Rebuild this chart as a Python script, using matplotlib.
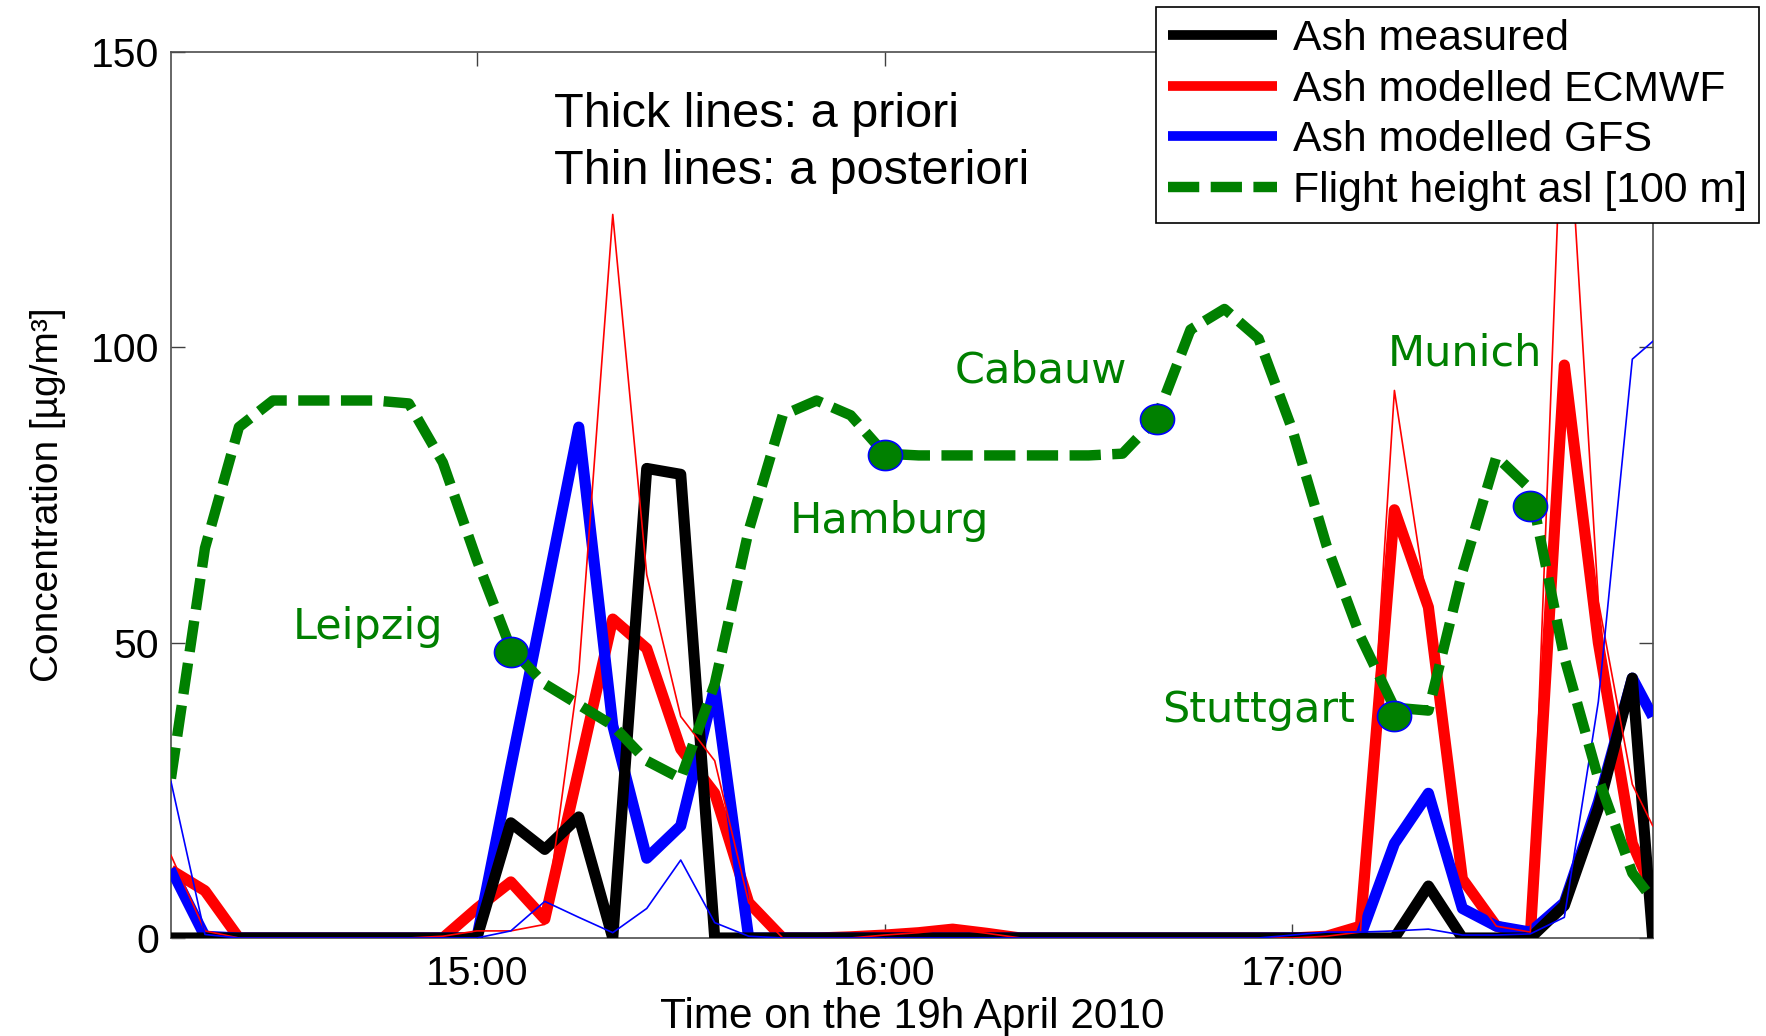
import numpy as np
import matplotlib
matplotlib.use('Agg')
import matplotlib.pyplot as plt
from matplotlib.path import Path
from matplotlib.markers import MarkerStyle

plt.rcParams['font.family'] = ['Liberation Sans', 'DejaVu Sans']

# sample times along the flight (5 min steps, last sample at landing)
times = ['14:15', '14:20', '14:25', '14:30', '14:35', '14:40', '14:45', '14:50',
         '14:55', '15:00', '15:05', '15:10', '15:15', '15:20', '15:25', '15:30',
         '15:35', '15:40', '15:45', '15:50', '15:55', '16:00', '16:05', '16:10',
         '16:15', '16:20', '16:25', '16:30', '16:35', '16:40', '16:45', '16:50',
         '16:55', '17:00', '17:05', '17:10', '17:15', '17:20', '17:25', '17:30',
         '17:35', '17:40', '17:45', '17:50', '17:53']

ash_measured = [0, 0, 0, 0, 0, 0, 0, 0, 0, 0,
                19.5, 15, 20.5, 0, 79.5, 78.5, 0, 0, 0, 0,
                0, 0, 0, 0, 0, 0, 0, 0, 0, 0,
                0, 0, 0, 0, 0, 0, 0, 8.8, 0, 0,
                0, 5.5, 22, 44, 0]

ecmwf_prior = [11.5, 8, 0, 0, 0, 0, 0, 0, 0, 5,
               9.5, 3.2, 28.5, 54, 49, 32, 24.5, 6, 0, 0,
               0.2, 0.5, 0.9, 1.5, 0.8, 0, 0, 0, 0, 0,
               0, 0, 0, 0, 0.3, 2, 72.5, 56, 10, 2,
               0.5, 97, 50, 16, 8]

ecmwf_post = [14, 1.2, 0, 0, 0, 0, 0, 0, 0.3, 1.2,
              1.2, 2.3, 45, 122.5, 61.5, 37.5, 30, 6, 0, 0,
              0, 0.5, 0.9, 1.5, 0.8, 0, 0, 0, 0, 0,
              0, 0, 0, 0, 0.3, 1, 92.7, 55, 10, 2,
              1, 152, 57, 26, 19]

gfs_prior = [11.7, 0.3, 0, 0, 0, 0, 0, 0, 0, 0,
             29, 57.5, 86.5, 36, 13.5, 19, 42.5, 0, 0, 0,
             0, 0, 0, 0, 0, 0, 0, 0, 0, 0,
             0, 0, 0, 0, 0, 0.3, 16, 24.5, 5, 2,
             1, 6, 23, 44, 37.5]

gfs_post = [26.5, 0.6, 0, 0, 0, 0, 0, 0, 0, 0,
            1.2, 6.2, 3.5, 0.9, 5, 13.2, 2.6, 0.3, 0, 0,
            0, 0, 0, 0, 0, 0, 0, 0, 0, 0,
            0, 0, 0, 0.5, 1, 1, 1.2, 1.5, 0.5, 0.5,
            0.7, 3.5, 40, 98, 101]

flight_height = [27, 66, 86.5, 91, 91, 91, 91, 90.5, 80.5, 64,
                 49, 43, 39.5, 36, 30, 27, 43, 69, 88.5, 91,
                 88.5, 82, 81.7, 81.7, 81.7, 81.7, 81.7, 81.7, 82, 88,
                 103, 106.5, 101.5, 86, 66.5, 51, 39, 38.5, 62, 81.5,
                 76, 47.5, 27, 11, 6.5]

cities = ['Leipzig', 'Hamburg', 'Cabauw', 'Stuttgart', 'Munich']
city_times = ['15:05', '16:00', '16:40', '17:15', '17:35']
city_height = [48.4, 81.7, 87.8, 37.5, 73.1]
city_label_x = [14.548, 15.768, 16.171, 16.68, 17.233]
city_label_y = [50.7, 68.6, 94.1, 36.5, 97.0]

xtick_hours = [15, 16, 17]
xtick_labels = ['15:00', '16:00', '17:00']
ytick_values = [0, 50, 100, 150]
ytick_labels = ['0', '50', '100', '150']


def to_hours(s):
    h, m = s.split(':')
    return int(h) + int(m) / 60.0


t = np.array([to_hours(s) for s in times])
tc = np.array([to_hours(s) for s in city_times])

GREEN = '#008000'

fig = plt.figure(figsize=(17.66, 10.36), dpi=100)
ax = fig.add_axes([0.0968, 0.0946, 0.936 - 0.0968, 0.9498 - 0.0946])

# a priori (thick) and a posteriori (thin) model runs
thick = dict(lw=8, solid_joinstyle='round', solid_capstyle='butt')
h_ecm, = ax.plot(t, ecmwf_prior, color='red', zorder=3, **thick)
h_gfs, = ax.plot(t, gfs_prior, color='blue', zorder=4, **thick)
h_meas, = ax.plot(t, ash_measured, color='black', zorder=5, **thick)
ax.plot(t, ecmwf_post, color='red', lw=1.2, zorder=6)
ax.plot(t, gfs_post, color='blue', lw=1.2, zorder=6)

h_fl, = ax.plot(t, flight_height, color=GREEN, lw=7.5, linestyle=(0, (3.0, 1.1)),
                dash_capstyle='butt', dash_joinstyle='round', zorder=7)

# city markers: slightly wide ellipses
theta = np.linspace(0, 2 * np.pi, 73)
ell = Path(np.column_stack([1.13 * np.cos(theta), np.sin(theta)]))
ax.plot(tc, city_height, linestyle='none', marker=MarkerStyle(ell), markersize=24.5,
        markerfacecolor=GREEN, markeredgecolor='blue', markeredgewidth=1.2, zorder=8)

for name, x, y in zip(cities, city_label_x, city_label_y):
    ax.text(x, y, name, color=GREEN, fontsize=31, family='DejaVu Sans',
            ha='left', va='baseline', zorder=9)

ax.text(15.19, 137.3, 'Thick lines: a priori', fontsize=35, ha='left', va='baseline')
ax.text(15.19, 127.6, 'Thin lines: a posteriori', fontsize=35, ha='left', va='baseline')

ax.set_xlim(14.25, 17.884)
ax.set_ylim(0, 150)
ax.set_xticks(xtick_hours)
ax.set_xticklabels(xtick_labels)
ax.set_yticks(ytick_values)
ax.set_yticklabels(ytick_labels)
ax.tick_params(axis='both', direction='in', length=10, width=1, color='0.25',
               top=True, right=True, labelsize=29.5)
ax.tick_params(axis='x', pad=12)
ax.tick_params(axis='y', pad=8.5)
for sp in ax.spines.values():
    sp.set_color('0.3')
    sp.set_linewidth(1.2)

ax.set_xlabel('Time on the 19h April 2010', fontsize=30.5)
ax.xaxis.set_label_coords(0.5, -0.0665)
ax.set_ylabel('Concentration [\u00b5g/m\u00b3]', fontsize=28)
ax.yaxis.set_label_coords(-0.0705, 0.5)

leg = ax.legend([h_meas, h_ecm, h_gfs, h_fl],
                ['Ash measured', 'Ash modelled ECMWF', 'Ash modelled GFS',
                 'Flight height asl [100 m]'],
                loc='upper right', bbox_to_anchor=(1759 / 1766, 1 - 7 / 1036),
                bbox_transform=fig.transFigure, fontsize=30.8, fancybox=False,
                framealpha=1, edgecolor='black', handlelength=2.55,
                handletextpad=0.38, borderpad=0.28, labelspacing=0.25,
                borderaxespad=0)
leg.get_frame().set_linewidth(1.2)
for ln in leg.get_lines()[:3]:
    ln.set_linewidth(7)
leg.set_zorder(20)

fig.savefig('out.png', dpi=100)
